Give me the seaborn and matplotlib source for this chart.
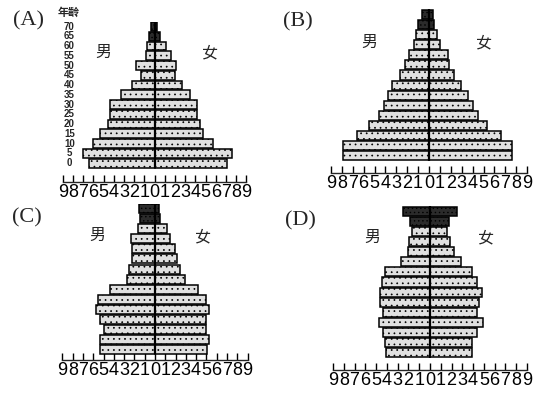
import numpy as np
import pandas as pd
import matplotlib
matplotlib.use("Agg")
import matplotlib.pyplot as plt
import seaborn as sns

# age groups 0..70 (step 5), values in % (left = male, right = female)
ages = [0, 5, 10, 15, 20, 25, 30, 35, 40, 45, 50, 55, 60, 65, 70]
age_labels = [str(a) for a in ages]
tick_vals = list(range(-9, 10))
tick_labels = [str(abs(v)) for v in tick_vals]

male_a = [6.4, 7.0, 6.0, 5.35, 4.6, 4.35, 4.35, 3.3, 2.25, 1.35, 1.8, 0.85, 0.7, 0.5, 0.3]
female_a = [7.1, 7.55, 5.75, 4.8, 4.5, 4.2, 4.2, 3.5, 2.65, 2.0, 2.1, 1.6, 1.15, 0.55, 0.25]

male_b = [7.85, 7.85, 6.6, 5.5, 4.6, 4.1, 3.75, 3.35, 2.65, 2.2, 1.85, 1.4, 1.2, 1.0, 0.6]
female_b = [7.6, 7.6, 6.65, 5.35, 4.5, 4.05, 3.55, 2.9, 2.3, 1.85, 1.7, 1.0, 0.75, 0.45, 0.35]

male_c = [5.35, 5.35, 5.0, 5.35, 5.7, 5.5, 4.4, 2.75, 2.55, 2.25, 2.25, 2.35, 1.7, 1.45, 1.55]
female_c = [5.1, 5.25, 4.95, 4.95, 5.25, 4.95, 4.2, 2.9, 2.45, 2.1, 1.95, 1.45, 1.2, 0.5, 0.4]

male_d = [4.1, 4.2, 4.4, 4.7, 4.4, 4.65, 4.6, 4.45, 4.2, 2.7, 2.05, 1.95, 1.7, 1.85, 2.55]
female_d = [3.85, 3.85, 4.35, 4.95, 4.35, 4.5, 4.8, 4.4, 3.85, 2.85, 2.25, 1.9, 1.55, 1.75, 2.55]

sns.set_style("white")
plt.rcParams["font.family"] = ["Liberation Sans", "DejaVu Sans"]
plt.rcParams["hatch.linewidth"] = 0.5
CJK = ["Noto Sans CJK TC", "DejaVu Sans"]

W, H = 534, 393
fig = plt.figure(figsize=(W / 100, H / 100), dpi=100)

# layout in pixels: centre x, px per unit, bar top, bar bottom, axis line
panels = [
    ("(A)", male_a, female_a, 154.5, 10.2, 21.7, 168, 182, (29, 21), (103, 52), (210, 53)),
    ("(B)", male_b, female_b, 429, 10.9, 9.3, 161, 172.5, (298, 22), (369, 42), (484, 43)),
    ("(C)", male_c, female_c, 155, 10.28, 204, 354, 360, (27, 218), (97, 235), (203, 237)),
    ("(D)", male_d, female_d, 430, 10.78, 206, 358, 370, (300, 221), (372, 237), (486, 238)),
]

for (name, male, female, cx, unit, top, bot, axis_y,
     name_xy, m_xy, f_xy) in panels:
    half = 9.6
    ax = fig.add_axes([(cx - half * unit) / W, 1 - axis_y / H,
                       2 * half * unit / W, (axis_y - top) / H])
    pos = list(range(len(ages)))
    df_m = pd.DataFrame({"pos": pos, "value": [-v for v in male]})
    df_f = pd.DataFrame({"pos": pos, "value": female})
    for d in (df_m, df_f):
        sns.barplot(data=d, x="value", y="pos", orient="h", native_scale=True,
                    errorbar=None, color="#dedede", edgecolor="black",
                    linewidth=1.1, width=0.9, saturation=1, ax=ax)
    for bar in ax.patches:
        yc = bar.get_y() + bar.get_height() / 2
        if yc > len(ages) - 2.5:
            bar.set_facecolor("#2b2b2b")
            bar.set_hatch("....")
        else:
            bar.set_facecolor("#e0e0e0")
            bar.set_hatch("...")
    ax.vlines(0, -0.5, len(ages) - 0.5, color="black", lw=1.6, zorder=5)

    row = (bot - top) / len(ages)
    ax.set_ylim(-0.5 - (axis_y - bot) / row, len(ages) - 0.5)
    ax.set_xlim(-half, half)
    ax.set_xticks(tick_vals)
    ax.set_xticklabels(tick_labels, fontsize=13)
    ax.set_yticks([])
    ax.set_xlabel("")
    ax.set_ylabel("")
    for s in ("top", "right", "left"):
        ax.spines[s].set_visible(False)
    ax.spines["bottom"].set_linewidth(1.0)
    ax.spines["bottom"].set_bounds(-9, 9)
    ax.tick_params(axis="x", bottom=True, direction="in", length=5, width=1,
                   pad=1.5, colors="black")
    ax.patch.set_alpha(0)

    fig.text(name_xy[0] / W, 1 - name_xy[1] / H, name, ha="center", va="center",
             fontsize=16, family=["Liberation Serif", "DejaVu Serif"])
    fig.text(m_xy[0] / W, 1 - m_xy[1] / H, "男", ha="center", va="center",
             fontsize=11.5, family=CJK)
    fig.text(f_xy[0] / W, 1 - f_xy[1] / H, "女", ha="center", va="center",
             fontsize=11.5, family=CJK)

    if name == "(A)":
        xl = (69.5 - cx) / unit
        for i, lab in enumerate(age_labels):
            ax.text(xl, i, lab, ha="center", va="center", fontsize=7,
                    fontweight="bold")
        fig.text(69 / W, 1 - 12 / H, "年齡", ha="center", va="center",
                 fontsize=8, fontweight="bold", family=CJK)

fig.savefig("out.png", dpi=100)
